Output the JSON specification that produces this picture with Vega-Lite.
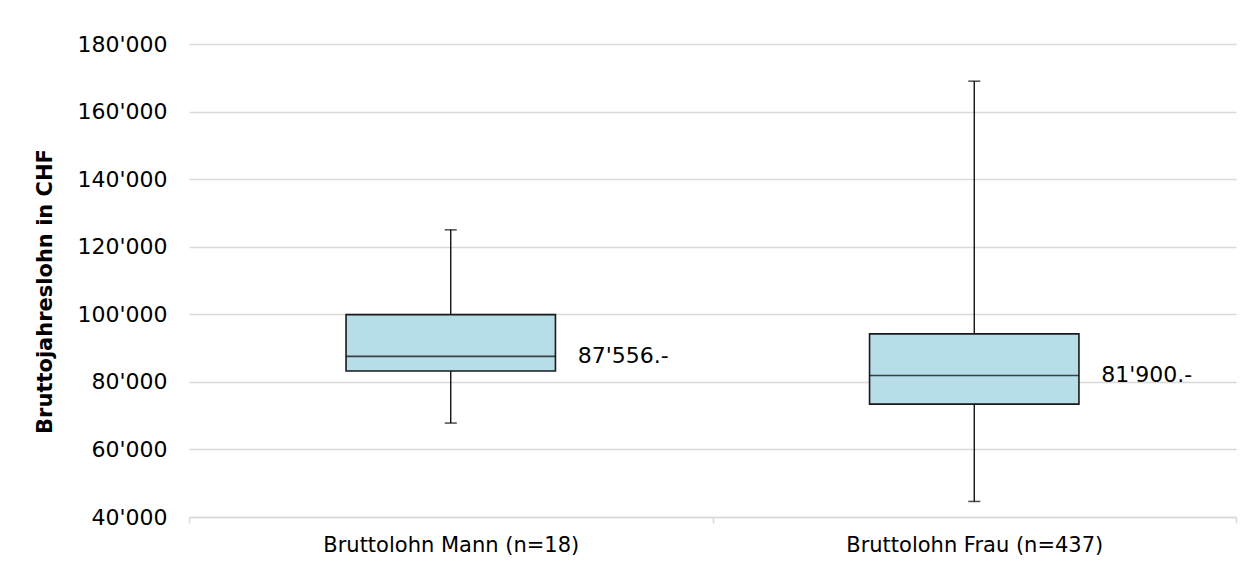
{
  "$schema": "https://vega.github.io/schema/vega-lite/v6.json",
  "width": 1047,
  "height": 473,
  "autosize": {"type": "none"},
  "padding": {"left": 189, "top": 44, "right": 16, "bottom": 49},
  "background": "white",
  "config": {
    "view": {"stroke": null},
    "font": "DejaVu Sans",
    "locale": {"number": {"decimal": ".", "thousands": "'", "grouping": [3], "currency": ["", ""]}}
  },
  "data": {
    "values": [
      {"group": "Bruttolohn Mann (n=18)", "min": 67800, "q1": 83200, "median": 87556, "q3": 99900, "max": 125000, "label": "87'556.-"},
      {"group": "Bruttolohn Frau (n=437)", "min": 44600, "q1": 73400, "median": 81900, "q3": 94200, "max": 169000, "label": "81'900.-"}
    ]
  },
  "encoding": {
    "x": {
      "field": "group",
      "type": "nominal",
      "sort": null,
      "scale": {"paddingInner": 0, "paddingOuter": 0},
      "axis": {
        "title": null,
        "labelAngle": 0,
        "labelFont": "DejaVu Sans",
        "labelFontSize": 21,
        "labelLimit": 0,
        "labelColor": "#000000",
        "labelPadding": 11,
        "domainColor": "#d9d9d9",
        "domainWidth": 1.5,
        "tickColor": "#d9d9d9",
        "tickSize": 6,
        "tickWidth": 1.5,
        "tickBand": "extent",
        "grid": false
      }
    }
  },
  "layer": [
    {
      "mark": {"type": "rule", "color": "#000000", "strokeWidth": 1.3},
      "encoding": {
        "y": {
          "field": "min",
          "type": "quantitative",
          "scale": {"domain": [40000, 180000], "nice": false},
          "axis": {
            "title": "Bruttojahreslohn in CHF",
            "titleFont": "DejaVu Sans",
            "titleFontSize": 21,
            "titleFontWeight": "bold",
            "titleColor": "#000000",
            "titleX": -144,
            "titleY": 247,
            "titleAngle": -90,
            "titleAlign": "center",
            "titleBaseline": "middle",
            "values": [40000, 60000, 80000, 100000, 120000, 140000, 160000, 180000],
            "format": ",d",
            "labelFont": "DejaVu Sans",
            "labelFontSize": 22,
            "labelColor": "#000000",
            "labelPadding": 22,
            "ticks": false,
            "domain": false,
            "grid": true,
            "gridColor": "#d9d9d9",
            "gridWidth": 1.5
          }
        },
        "y2": {"field": "max"}
      }
    },
    {
      "mark": {"type": "bar", "fill": "#b7dde8", "stroke": "#1a1a1a", "strokeWidth": 1.6, "width": {"band": 0.4}},
      "encoding": {
        "y": {"field": "q1", "type": "quantitative"},
        "y2": {"field": "q3"}
      }
    },
    {
      "mark": {"type": "tick", "color": "#000000", "size": 209, "thickness": 1.6},
      "encoding": {"y": {"field": "median", "type": "quantitative"}}
    },
    {
      "mark": {"type": "tick", "color": "#000000", "size": 12, "thickness": 1.5},
      "encoding": {"y": {"field": "min", "type": "quantitative"}}
    },
    {
      "mark": {"type": "tick", "color": "#000000", "size": 12, "thickness": 1.5},
      "encoding": {"y": {"field": "max", "type": "quantitative"}}
    },
    {
      "mark": {"type": "text", "align": "left", "baseline": "middle", "dx": 127, "fontSize": 22, "font": "DejaVu Sans", "color": "#000000"},
      "encoding": {
        "y": {"field": "median", "type": "quantitative"},
        "text": {"field": "label", "type": "nominal"}
      }
    }
  ]
}
